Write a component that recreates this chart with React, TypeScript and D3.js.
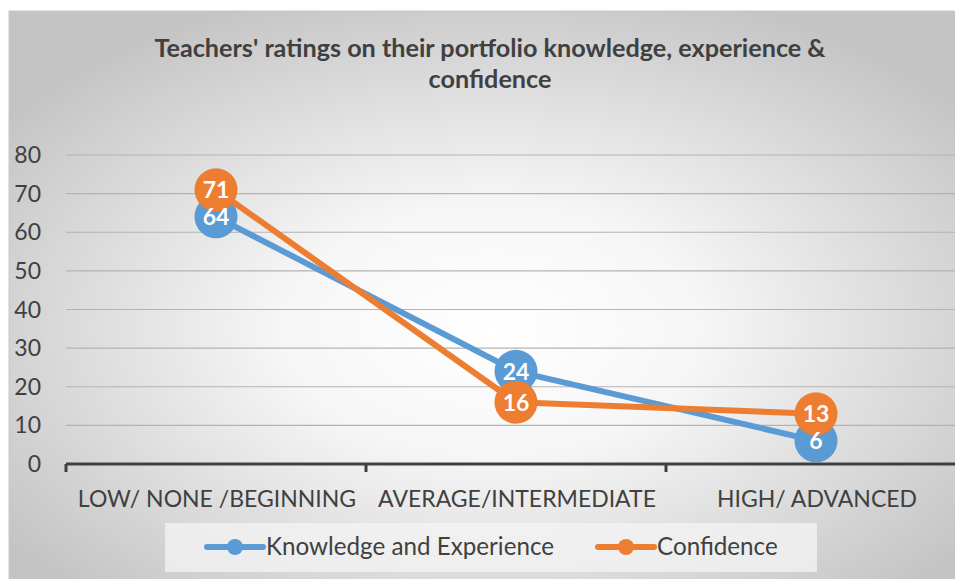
import React from "react";
import * as d3 from "d3";

const categories = ["LOW/ NONE /BEGINNING", "AVERAGE/INTERMEDIATE", "HIGH/ ADVANCED"];
const knowledge = [64, 24, 6];
const confidence = [71, 16, 13];
const yTicks = [0, 10, 20, 30, 40, 50, 60, 70, 80];
const seriesNames = ["Knowledge and Experience", "Confidence"];
const titleLines = ["Teachers' ratings on their portfolio knowledge, experience &", "confidence"];

const W = 955;
const H = 579;
const FONT = "Lato, 'Open Sans', sans-serif";
const BLUE = "#5B9BD5";
const ORANGE = "#ED7D31";
const TEXT = "#404040";

export default function App() {
  const x = d3.scaleBand<string>().domain(categories).range([66, 966]).padding(0);
  const y = d3.scaleLinear().domain([0, 80]).range([464, 155]);
  const cx = (c: string) => (x(c) as number) + x.bandwidth() / 2;
  const line = d3
    .line<number>()
    .x((_, i) => cx(categories[i]))
    .y((d) => y(d));

  const series = [
    { name: seriesNames[0], values: knowledge, color: BLUE },
    { name: seriesNames[1], values: confidence, color: ORANGE },
  ];

  const legendX = [207, 598];

  return (
    <svg
      width={W}
      height={H}
      style={{ position: "absolute", left: 0, top: 0, display: "block" }}
      fontFamily={FONT}
    >
      <defs>
        <radialGradient id="bg" cx="0.5" cy="0.55" r="0.62" gradientUnits="objectBoundingBox">
          <stop offset="0" stopColor="#ffffff" />
          <stop offset="0.35" stopColor="#f6f6f6" />
          <stop offset="1" stopColor="#c4c4c4" />
        </radialGradient>
      </defs>
      <rect x={0} y={0} width={W} height={H} fill="#ffffff" />
      <rect x={9} y={11} width={W + 10} height={H} fill="url(#bg)" stroke="#c8c8c8" strokeWidth={1} />

      {titleLines.map((t, i) => (
        <text
          key={i}
          x={490}
          y={57 + i * 31}
          textAnchor="middle"
          fontSize={25.2}
          fontWeight="bold"
          fill={TEXT}
        >
          {t}
        </text>
      ))}

      {yTicks.map((t) =>
        t === 0 ? null : (
          <line key={t} x1={66} x2={W} y1={y(t)} y2={y(t)} stroke="#b3b3b3" strokeWidth={1.2} />
        )
      )}
      {yTicks.map((t) => (
        <text key={"l" + t} x={41} y={y(t) + 8} textAnchor="end" fontSize={23} fill={TEXT}>
          {t}
        </text>
      ))}

      <line x1={66} x2={W} y1={y(0)} y2={y(0)} stroke={TEXT} strokeWidth={3} />
      {categories.map((c, i) => {
        const px = x(c) as number;
        return <line key={"tk" + i} x1={px} x2={px} y1={y(0)} y2={y(0) + 8} stroke={TEXT} strokeWidth={3} />;
      })}

      {categories.map((c) => (
        <text key={c} x={cx(c) + 1} y={507} textAnchor="middle" fontSize={23} fill={TEXT}>
          {c}
        </text>
      ))}

      {series.map((s) => (
        <g key={s.name}>
          <path d={line(s.values) || ""} fill="none" stroke={s.color} strokeWidth={6} strokeLinejoin="round" />
          {s.values.map((v, i) => (
            <circle key={i} cx={cx(categories[i])} cy={y(v)} r={21.5} fill={s.color} />
          ))}
        </g>
      ))}
      {series.map((s) =>
        s.values.map((v, i) => (
          <text
            key={s.name + i}
            x={cx(categories[i])}
            y={y(v) + 8.5}
            textAnchor="middle"
            fontSize={23}
            fontWeight="bold"
            fill="#ffffff"
          >
            {v}
          </text>
        ))
      )}

      <rect x={165} y={523} width={652} height={49} fill="#f4f4f4" fillOpacity={0.75} />
      {series.map((s, i) => {
        const lx = legendX[i];
        return (
          <g key={"lg" + i}>
            <line x1={lx} x2={lx + 56} y1={547} y2={547} stroke={s.color} strokeWidth={6} strokeLinecap="round" />
            <circle cx={lx + 28} cy={547} r={8} fill={s.color} />
            <text x={lx + 59} y={555} fontSize={24.2} fill={TEXT}>
              {s.name}
            </text>
          </g>
        );
      })}
    </svg>
  );
}
